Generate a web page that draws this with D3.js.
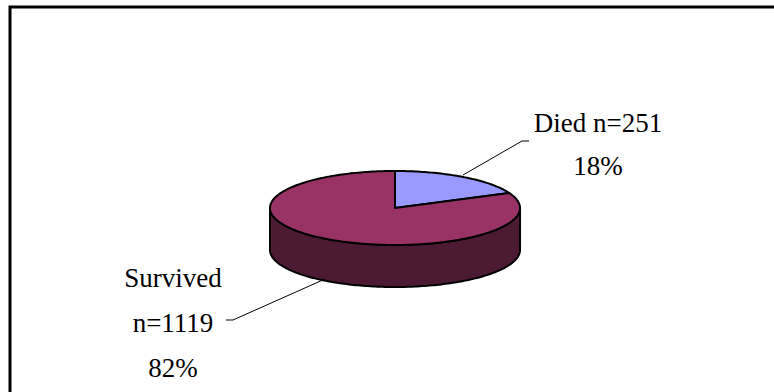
<!DOCTYPE html>
<html>
<head>
<meta charset="utf-8">
<script src="https://cdn.jsdelivr.net/npm/d3@7"></script>
<style>
  html, body { margin: 0; padding: 0; background: #fff; }
  svg { display: block; }
</style>
</head>
<body>
<svg id="viz"></svg>
<script>
// chart data
const categories = ["Died", "Survived"];
const counts = [251, 1119];
const percentLabels = ["18%", "82%"];

const colors = ["#9999ff", "#993366"];
const sideColors = ["#4d4d80", "#4d1a33"];

width = 774;
height = 392;

// ellipse geometry of the pseudo-3D pie
const cx = 395, cy = 208;
const rx = 125, ry = 37;
const depth = 42;

const svg = d3.select("#viz")
    .attr("width", width)
    .attr("height", height)
    .attr("viewBox", [0, 0, width, height]);

// plot area frame (runs off the right and bottom edges)
svg.append("rect")
    .attr("x", 10)
    .attr("y", 7)
    .attr("width", width + 20)
    .attr("height", height + 20)
    .attr("fill", "none")
    .attr("stroke", "#000")
    .attr("stroke-width", 3);

const data = categories.map((c, i) => ({ name: c, n: counts[i], pct: percentLabels[i], color: colors[i], side: sideColors[i] }));

const pie = d3.pie().sort(null).value(d => d.n);
const arcs = pie(data);

// angle measured clockwise from 12 o'clock
const px = a => cx + rx * Math.sin(a);
const py = (a, dy = 0) => cy + dy - ry * Math.cos(a);

const line = d3.line();
const sample = (a0, a1) => {
    const n = Math.max(2, Math.ceil(Math.abs(a1 - a0) / 0.02));
    return d3.range(n + 1).map(k => a0 + (a1 - a0) * k / n);
};

// side walls: only the front half (PI/2 .. 3PI/2) is visible
const g = svg.append("g");
arcs.forEach(d => {
    const a0 = Math.max(d.startAngle, Math.PI / 2);
    const a1 = Math.min(d.endAngle, 3 * Math.PI / 2);
    if (a1 <= a0) return;
    const top = sample(a0, a1).map(a => [px(a), py(a)]);
    const bottom = sample(a1, a0).map(a => [px(a), py(a, depth)]);
    g.append("path")
        .attr("d", line(top.concat(bottom)) + "Z")
        .attr("fill", d.data.side)
        .attr("stroke", "#000")
        .attr("stroke-width", 2)
        .attr("stroke-linejoin", "round");
});

// top faces
arcs.forEach(d => {
    const pts = [[cx, cy]].concat(sample(d.startAngle, d.endAngle).map(a => [px(a), py(a)]));
    g.append("path")
        .attr("d", line(pts) + "Z")
        .attr("fill", d.data.color)
        .attr("stroke", "#000")
        .attr("stroke-width", 2)
        .attr("stroke-linejoin", "round");
});

// labels and leader lines
const fontSize = 27;
const labels = [
    { lines: [data[0].name + " n=" + data[0].n, data[0].pct], x: 598, y: 132, lead: [[463, 175], [522, 141], [529, 141]] },
    { lines: [data[1].name, "n=" + data[1].n, data[1].pct], x: 173, y: 287, lead: [[325, 279], [233, 320], [226, 320]] }
];
const gap = [43, 45];

labels.forEach((l, i) => {
    svg.append("path")
        .attr("d", line(l.lead))
        .attr("fill", "none")
        .attr("stroke", "#000")
        .attr("stroke-width", 1);
    const t = svg.append("text")
        .attr("text-anchor", "middle")
        .style("font-family", "'Times New Roman', Times, 'Liberation Serif', serif")
        .attr("font-size", fontSize)
        .attr("fill", "#000");
    l.lines.forEach((s, k) => {
        t.append("tspan")
            .attr("x", l.x)
            .attr("y", l.y + k * gap[i])
            .text(s);
    });
});
</script>
</body>
</html>
